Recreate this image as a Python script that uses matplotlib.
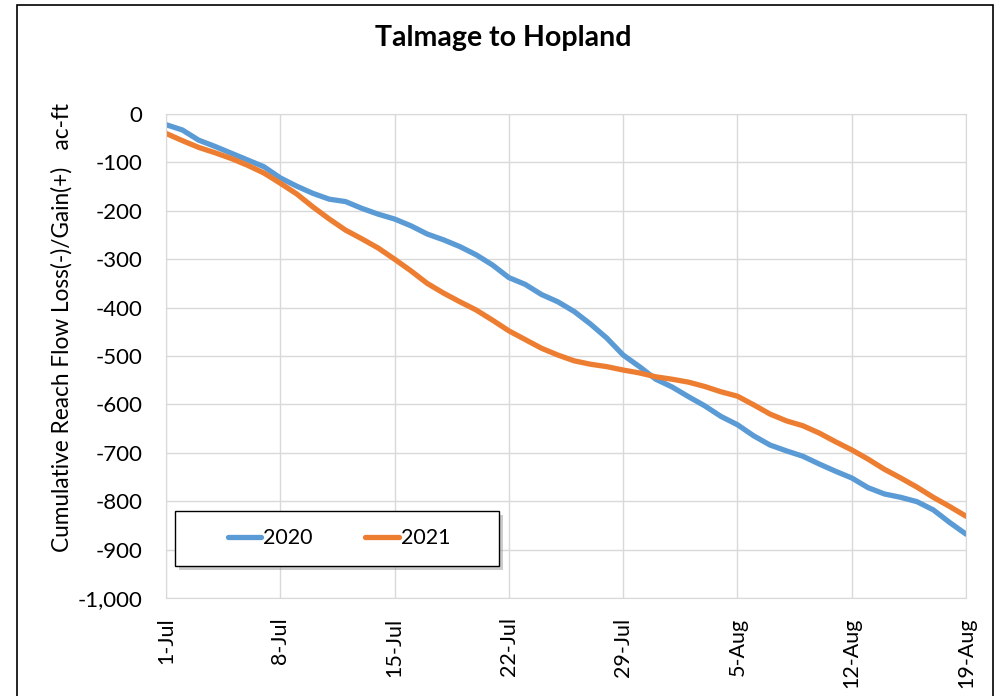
import matplotlib.pyplot as plt
from matplotlib.patches import Rectangle

# Data (daily, 1-Jul to 19-Aug)
days = list(range(50))
loss_2020 = [-22, -33, -54, -67, -81, -95, -109, -132, -149, -164,
             -176, -181, -195, -207, -217, -231, -248, -260, -274, -291,
             -312, -338, -352, -373, -388, -408, -434, -463, -498, -522,
             -548, -564, -584, -603, -625, -642, -665, -684, -696, -707,
             -723, -738, -752, -772, -785, -792, -801, -818, -844, -868]
loss_2021 = [-40, -55, -69, -80, -92, -106, -122, -143, -165, -192,
             -217, -240, -258, -277, -300, -324, -350, -370, -388, -405,
             -426, -448, -466, -484, -498, -510, -517, -522, -529, -535,
             -543, -548, -554, -563, -574, -583, -601, -620, -634, -644,
             -659, -677, -694, -713, -734, -752, -771, -792, -811, -831]
tick_days = [0, 7, 14, 21, 28, 35, 42, 49]
tick_labels = ["1-Jul", "8-Jul", "15-Jul", "22-Jul", "29-Jul", "5-Aug", "12-Aug", "19-Aug"]

plt.rcParams["font.family"] = ["Lato", "DejaVu Sans"]

W, H = 1004, 696
fig = plt.figure(figsize=(W / 100, H / 100), dpi=100)
ax = fig.add_axes([166 / W, 1 - 598 / H, 800 / W, 484 / H])

l1, = ax.plot(days, loss_2020, color="#5B9BD5", linewidth=3.8, label="2020",
              solid_capstyle="round")
l2, = ax.plot(days, loss_2021, color="#ED7D31", linewidth=3.8, label="2021",
              solid_capstyle="round")

ax.set_xlim(0, 49)
ax.set_ylim(-1000, 0)
ax.set_xticks(tick_days)
ax.set_xticklabels(tick_labels, rotation=90, fontsize=15.5)
ax.set_yticks(range(-1000, 1, 100))
ax.set_yticklabels([f"{v:,}" for v in range(-1000, 1, 100)], fontsize=16)
ax.tick_params(axis="y", length=0, pad=17)
ax.tick_params(axis="x", length=0, pad=14)
ax.grid(True, color="#d9d9d9", linewidth=1)
for s in ax.spines.values():
    s.set_color("#d9d9d9")

fig.text(503 / W, 1 - 38 / H, "Talmage to Hopland",
         ha="center", va="center", fontsize=20.5, fontweight="bold")
fig.text(62 / W, 1 - 327 / H,
         "Cumulative Reach Flow Loss(-)/Gain(+)   ac-ft",
         rotation=90, ha="center", va="center", fontsize=16.3)

# legend box with shadow
lx0, ly0, lx1, ly1 = 175, 511, 499, 566
fig.patches.append(Rectangle(((lx0 + 4) / W, 1 - (ly1 + 4) / H), (lx1 - lx0) / W,
                             (ly1 - ly0) / H, transform=fig.transFigure,
                             facecolor="#9a9a9a", edgecolor="none", alpha=0.5,
                             zorder=3))
fig.patches.append(Rectangle((lx0 / W, 1 - ly1 / H), (lx1 - lx0) / W,
                             (ly1 - ly0) / H, transform=fig.transFigure,
                             facecolor="white", edgecolor="black", linewidth=1,
                             zorder=3))
leg = fig.legend(handles=[l1, l2], loc="center",
                 bbox_to_anchor=((lx0 + lx1 + 4) / 2 / W, 1 - (ly0 + ly1) / 2 / H),
                 bbox_transform=fig.transFigure, ncol=2, fontsize=15.5,
                 frameon=False, handlelength=1.55, handletextpad=0.1,
                 columnspacing=2.45)
leg.set_zorder(5)

# outer chart border
fig.patches.append(Rectangle((17 / W, -0.05), (993 - 17) / W, 1.05 - 5 / H,
                             transform=fig.transFigure, fill=False,
                             edgecolor="black", linewidth=1.2))

fig.savefig("out.png", dpi=100)
